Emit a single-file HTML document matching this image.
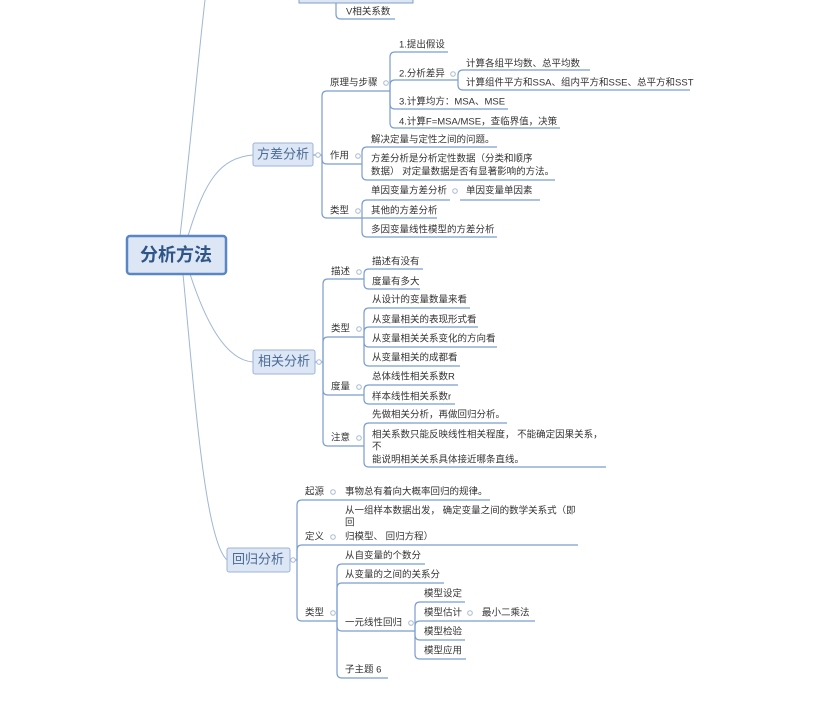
<!DOCTYPE html>
<html><head><meta charset="utf-8"><style>
html,body{margin:0;padding:0;background:#fff;width:825px;height:704px;overflow:hidden}
svg{display:block}
text{font-family:"Liberation Sans","Noto Sans CJK SC",sans-serif;font-size:9.5px;fill:#333;dominant-baseline:middle}
</style></head><body>
<svg id="s" width="825" height="704" xmlns="http://www.w3.org/2000/svg">
<g fill="none" stroke="#9fb6d6" stroke-width="1">
<path d="M180,236 C190,150 198,60 205,0"/>
<path d="M188,236 C205,180 220,158 253,155"/>
<path d="M190,274 C205,320 225,360 253,362"/>
<path d="M183,274 C195,400 205,540 227,560"/>
</g>
<g id="lines" fill="none" stroke="#7b9dcf" stroke-width="1.2"></g>
<g id="dots" fill="#fff" stroke="#aabbd3" stroke-width="1"></g>
<rect x="299" y="-10" width="114" height="13" fill="#dce6f4" stroke="#7f9fcc"/>
<rect x="127" y="236" width="99" height="38" rx="3" fill="#dce6f4" stroke="#5b86c5" stroke-width="2.5"/>
<text x="176" y="256" text-anchor="middle" style="font-size:18px;font-weight:bold;fill:#2d5587">分析方法</text>
<rect x="253" y="143" width="60" height="23" rx="2" fill="#dce6f4" stroke="#9db5d8"/>
<text x="283" y="155" text-anchor="middle" style="font-size:13px;fill:#4a6a95">方差分析</text>
<rect x="253" y="350" width="62" height="24" rx="2" fill="#dce6f4" stroke="#9db5d8"/>
<text x="284" y="362" text-anchor="middle" style="font-size:13px;fill:#4a6a95">相关分析</text>
<rect x="227" y="548" width="63" height="24" rx="2" fill="#dce6f4" stroke="#9db5d8"/>
<text x="258" y="560" text-anchor="middle" style="font-size:13px;fill:#4a6a95">回归分析</text>
<g id="txt"></g>
</svg>
<script>
var L=document.getElementById('lines'),T=document.getElementById('txt'),D=document.getElementById('dots');
var NS='http://www.w3.org/2000/svg';
function el(p,n,a,t){var e=document.createElementNS(NS,n);for(var k in a)e.setAttribute(k,a[k]);if(t)e.textContent=t;p.appendChild(e);}
function path(d){el(L,'path',{d:d});}
function leaf(x,ys,txt,u0,u1,uy){
  var arr=txt.split('|');for(var i=0;i<arr.length;i++)el(T,'text',{x:x,y:ys[i]+1},arr[i]);
  path('M'+u0+','+uy+' L'+u1+','+uy);}
function br(bx,py,cys){var r=5;cys.forEach(function(cy){
  var s=cy<py?-1:1; if(Math.abs(cy-py)<r){path('M'+bx+','+py+' L'+(bx+r)+','+cy);return;}
  path('M'+bx+','+py+' L'+bx+','+(cy-s*r)+' Q'+bx+','+cy+' '+(bx+r)+','+cy);});}
function dot(x,y){el(D,'circle',{cx:x,cy:y+1,r:2.3});}
path('M336,3 L336,14 Q336,19 341,19 L395,19');el(T,'text',{x:346,y:12},'V相关系数');
path('M313,155 L322,155');dot(318,154);
br(322,155,[91,164,218]);
leaf(330,[82],'原理与步骤',327,390,91);dot(386,82);
leaf(330,[155],'作用',327,362,164);dot(358,155);
leaf(330,[210],'类型',327,362,218);dot(358,210);
br(390,91,[52,80,109,128]);
leaf(399,[44],'1.提出假设',395,448,52);
leaf(399,[73],'2.分析差异',395,458,80);dot(453,73);
br(458,80,[70,90]);
leaf(466,[63],'计算各组平均数、总平均数',463,590,70);
leaf(466,[82],'计算组件平方和SSA、组内平方和SSE、总平方和SST',463,690,90);
leaf(399,[101],'3.计算均方：MSA、MSE',395,508,109);
leaf(399,[121],'4.计算F=MSA/MSE，查临界值，决策',395,560,128);
br(362,164,[147,180]);
leaf(371,[139],'解决定量与定性之间的问题。',367,497,147);
leaf(371,[158,171],'方差分析是分析定性数据（分类和顺序|数据） 对定量数据是否有显著影响的方法。',367,555,180);
br(362,218,[200,218,237]);
leaf(371,[190],'单因变量方差分析',367,450,200);dot(455,190);
leaf(466,[190],'单因变量单因素',460,540,200);
leaf(371,[210],'其他的方差分析',367,437,218);
leaf(371,[229],'多因变量线性模型的方差分析',367,497,237);
path('M315,362 L323,362');dot(319,361);
br(323,362,[279,337,395,446]);
leaf(331,[271],'描述',328,364,279);dot(359,271);
leaf(331,[328],'类型',328,364,337);dot(359,328);
leaf(331,[386],'度量',328,364,395);dot(359,386);
leaf(331,[437],'注意',328,364,446);dot(359,437);
br(364,279,[269,289]);
leaf(372,[261],'描述有没有',369,423,269);
leaf(372,[281],'度量有多大',369,420,289);
br(364,337,[308,327,347,366]);
leaf(372,[299],'从设计的变量数量来看',369,470,308);
leaf(372,[319],'从变量相关的表现形式看',369,478,327);
leaf(372,[338],'从变量相关关系变化的方向看',369,497,347);
leaf(372,[357],'从变量相关的成都看',369,460,366);
br(364,395,[385,404]);
leaf(372,[376],'总体线性相关系数R',369,458,385);
leaf(372,[396],'样本线性相关系数r',369,455,404);
br(364,446,[423,467]);
leaf(372,[414],'先做相关分析，再做回归分析。',369,507,423);
leaf(372,[434,446,459],'相关系数只能反映线性相关程度， 不能确定因果关系，|不|能说明相关关系具体接近哪条直线。',369,606,467);
path('M290,560 L297,560');dot(293,559);
br(297,560,[500,545,621]);
leaf(305,[491],'起源',302,340,500);dot(333,491);
leaf(345,[491],'事物总有着向大概率回归的规律。',340,490,500);
leaf(305,[536],'定义',302,340,545);dot(333,536);
leaf(345,[510,522,536],'从一组样本数据出发， 确定变量之间的数学关系式（即|回|归模型、 回归方程）',340,578,545);
leaf(305,[612],'类型',302,337,621);dot(333,612);
br(337,621,[564,583,631,678]);
leaf(345,[555],'从自变量的个数分',342,425,564);
leaf(345,[574],'从变量的之间的关系分',342,444,583);
leaf(345,[622],'一元线性回归',342,415,631);dot(411,622);
leaf(345,[669],'子主题 6',342,388,678);
br(415,631,[602,621,640,659]);
leaf(424,[593],'模型设定',420,465,602);
leaf(424,[612],'模型估计',420,477,621);dot(470,612);
leaf(482,[612],'最小二乘法',477,535,621);
leaf(424,[631],'模型检验',420,465,640);
leaf(424,[650],'模型应用',420,466,659);
</script>
</body></html>
